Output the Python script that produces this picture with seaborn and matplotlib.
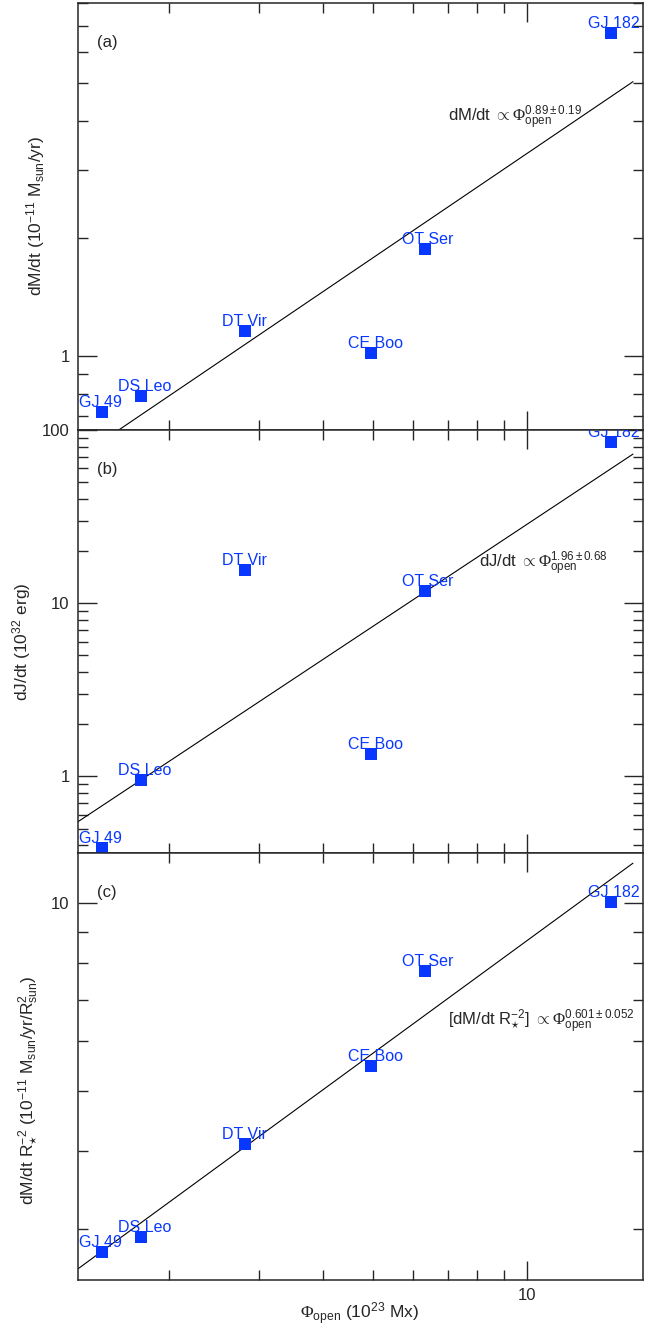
import numpy as np
import pandas as pd
import matplotlib
matplotlib.use('Agg')
import matplotlib.pyplot as plt
import seaborn as sns
from matplotlib.ticker import LogLocator, NullFormatter, FuncFormatter

# stars and measured quantities
stars = ['GJ 49', 'DS Leo', 'DT Vir', 'CE Boo', 'OT Ser', 'GJ 182']
phi_open = [1.48, 1.77, 2.82, 4.97, 6.33, 14.6]          # 10^23 Mx
mdot = [0.719, 0.788, 1.157, 1.018, 1.874, 6.71]          # 10^-11 Msun/yr
jdot = [0.386, 0.957, 15.6, 1.357, 11.73, 85.2]           # 10^32 erg
mdot_area = [2.76, 2.91, 4.11, 5.48, 7.79, 10.02]         # 10^-11 Msun/yr/Rsun^2

# power-law fits  y = norm * phi^index
fit_norm = [0.425, 0.313, 2.181]
fit_index = [0.89, 1.96, 0.601]
fit_text = [r'dM/dt $\propto\mathsf{\Phi}^{0.89\pm0.19}_{\rm open}$',
            r'dJ/dt $\propto\mathsf{\Phi}^{1.96\pm0.68}_{\rm open}$',
            r'[dM/dt R$_{\star}^{-2}$] $\propto\mathsf{\Phi}^{0.601\pm0.052}_{\rm open}$']
fit_phi = [1.2, 16.1]

ylabels = [r'dM/dt (10$^{-11}$ M$_{\rm sun}$/yr)',
           r'dJ/dt (10$^{32}$ erg)',
           r'dM/dt R$_{\star}^{-2}$ (10$^{-11}$ M$_{\rm sun}$/yr/R$^{2}_{\rm sun}$)']
panel_tags = ['(a)', '(b)', '(c)']

sns.set_style('ticks')
plt.rcParams['font.family'] = ['Liberation Sans', 'DejaVu Sans']
plt.rcParams['mathtext.fontset'] = 'custom'
plt.rcParams['mathtext.rm'] = 'Liberation Sans'
plt.rcParams['mathtext.it'] = 'Liberation Sans:italic'
plt.rcParams['mathtext.bf'] = 'Liberation Sans:bold'
plt.rcParams['mathtext.sf'] = 'Liberation Serif'

blue = '#0838ff'
df = pd.DataFrame({'star': stars, 'phi': phi_open, 'mdot': mdot,
                   'jdot': jdot, 'mdot_area': mdot_area})
cols = ['mdot', 'jdot', 'mdot_area']

fig = plt.figure(figsize=(6.65, 13.3), dpi=100)
W, H = 665, 1330
left, right = 78, 643
panels = [(3, 430), (430, 853), (853, 1280)]
ylims = [(0.645, 8.02), (0.3616, 100), (2.485, 12.03)]
ann_pos = [(0.654, 0.722), (0.710, 0.673), (0.654, 0.595)]
ylab_x = [36, 22, 29]
ylab_y = [216, 642, 1090]

axes = []
for i, (top, bot) in enumerate(panels):
    ax = fig.add_axes([left / W, 1 - bot / H, (right - left) / W, (bot - top) / H],
                      sharex=axes[0] if axes else None)
    axes.append(ax)
    ax.set_xscale('log')
    ax.set_yscale('log')

    sns.scatterplot(data=df, x='phi', y=cols[i], marker='s', s=70, color=blue,
                    linewidth=0, ax=ax, zorder=3)
    fx = np.array(fit_phi)
    fy = fit_norm[i] * fx ** fit_index[i]
    sns.lineplot(x=fx, y=fy, color='black', linewidth=0.8, ax=ax)

    for name, x, y in zip(stars, phi_open, df[cols[i]]):
        ax.annotate(name, (x, y), xytext=(-16.6, 3.6), textcoords='offset points',
                    ha='left', va='baseline', color=blue, fontsize=11.5, clip_on=True)

    ax.text(ann_pos[i][0], ann_pos[i][1], fit_text[i], transform=ax.transAxes,
            ha='left', va='baseline', fontsize=12)
    ax.text(0.034, 1 - 40 / (bot - top), panel_tags[i], transform=ax.transAxes,
            ha='left', va='center', fontsize=12)

    ax.set_xlim(1.331, 16.84)
    ax.set_ylim(*ylims[i])
    ax.set_xlabel('')
    ax.set_ylabel('')
    ax.yaxis.set_major_locator(LogLocator(base=10))
    ax.yaxis.set_minor_locator(LogLocator(base=10, subs=np.arange(2, 10)))
    ax.yaxis.set_major_formatter(FuncFormatter(lambda v, p: f'{v:g}'))
    ax.yaxis.set_minor_formatter(NullFormatter())
    ax.tick_params(which='both', direction='in', top=True, right=True,
                   width=1, labelsize=12, pad=6)
    ax.tick_params(which='major', length=14)
    ax.tick_params(which='minor', length=7)
    for s in ax.spines.values():
        s.set_linewidth(1.1)
        s.set_visible(True)
    ax.tick_params(labelbottom=(i == 2))

    fig.text(ylab_x[i] / W, 1 - ylab_y[i] / H, ylabels[i], rotation=90,
             ha='center', va='center', fontsize=12.5)

ax = axes[2]
ax.xaxis.set_major_locator(LogLocator(base=10))
ax.xaxis.set_minor_locator(LogLocator(base=10, subs=np.arange(2, 10)))
ax.xaxis.set_major_formatter(FuncFormatter(lambda v, p: f'{v:g}'))
ax.xaxis.set_minor_formatter(NullFormatter())
fig.text(360 / W, 1 - 1314 / H, r'$\mathsf{\Phi}_{\rm open}$ (10$^{23}$ Mx)',
         ha='center', va='center', fontsize=12.5)

fig.savefig('out.png', dpi=100)
